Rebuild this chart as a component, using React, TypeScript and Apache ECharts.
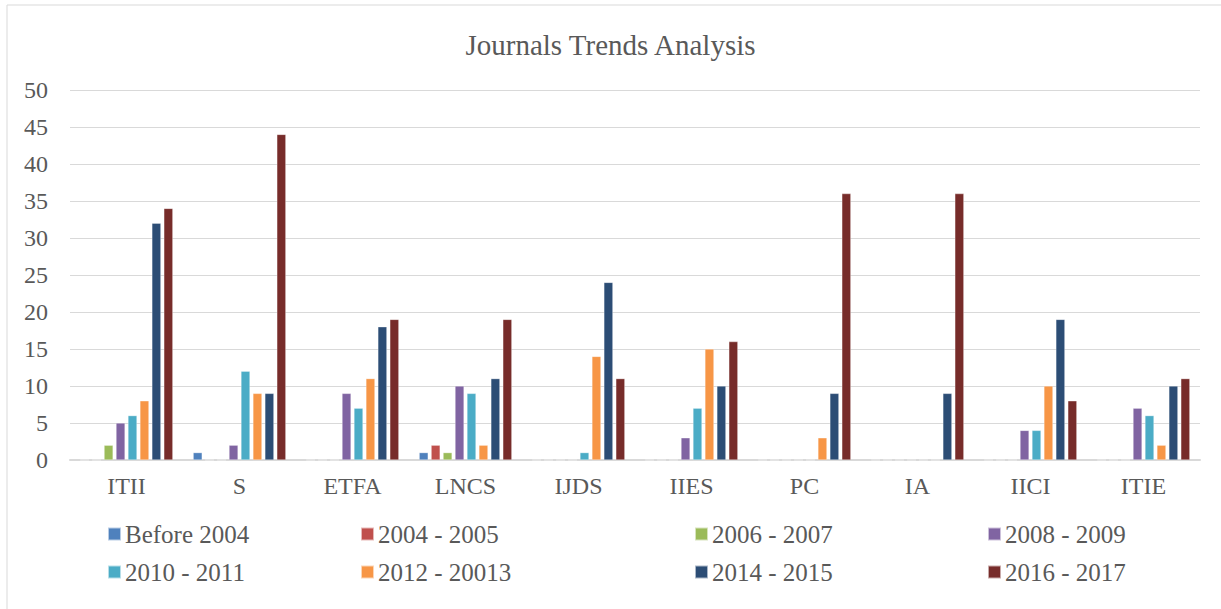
import React, { useEffect, useRef } from "react";
import * as echarts from "echarts";

const categories = ["ITII", "S", "ETFA", "LNCS", "IJDS", "IIES", "PC", "IA", "IICI", "ITIE"];
const seriesNames = [
  "Before 2004",
  "2004 - 2005",
  "2006 - 2007",
  "2008 - 2009",
  "2010 - 2011",
  "2012 - 20013",
  "2014 - 2015",
  "2016 - 2017",
];
const before2004 = [0, 1, 0, 1, 0, 0, 0, 0, 0, 0];
const y2004_2005 = [0, 0, 0, 2, 0, 0, 0, 0, 0, 0];
const y2006_2007 = [2, 0, 0, 1, 0, 0, 0, 0, 0, 0];
const y2008_2009 = [5, 2, 9, 10, 0, 3, 0, 0, 4, 7];
const y2010_2011 = [6, 12, 7, 9, 1, 7, 0, 0, 4, 6];
const y2012_2013 = [8, 9, 11, 2, 14, 15, 3, 0, 10, 2];
const y2014_2015 = [32, 9, 18, 11, 24, 10, 9, 9, 19, 10];
const y2016_2017 = [34, 44, 19, 19, 11, 16, 36, 36, 8, 11];
const yTicks = [0, 5, 10, 15, 20, 25, 30, 35, 40, 45, 50];

const seriesData = [before2004, y2004_2005, y2006_2007, y2008_2009, y2010_2011, y2012_2013, y2014_2015, y2016_2017];
const colors = ["#4F81BD", "#C0504D", "#9BBB59", "#8064A2", "#4BACC6", "#F79646", "#2C4D75", "#772C2A"];

const FONT = "'Liberation Serif', 'Times New Roman', serif";
const TXT = "#595959";

const legendPos = [
  { left: 107, top: 521 },
  { left: 360, top: 521 },
  { left: 694, top: 521 },
  { left: 987, top: 521 },
  { left: 107, top: 559 },
  { left: 360, top: 559 },
  { left: 694, top: 559 },
  { left: 987, top: 559 },
];

export default function App() {
  const ref = useRef<HTMLDivElement>(null);
  useEffect(() => {
    if (!ref.current) return;
    const chart = echarts.init(ref.current, null, { renderer: "svg" });
    chart.setOption({
      animation: false,
      backgroundColor: "#ffffff",
      color: colors,
      title: {
        text: "Journals Trends Analysis",
        left: "center",
        top: 25,
        textStyle: { fontFamily: FONT, fontSize: 29, fontWeight: "normal", color: TXT },
      },
      graphic: [
        {
          type: "rect",
          shape: { x: 7, y: 5, width: 1400, height: 800 },
          style: { fill: "none", stroke: "#d9d9d9", lineWidth: 1 },
          silent: true,
        },
      ],
      legend: seriesNames.map((n, i) => ({
        data: [n],
        left: legendPos[i].left,
        top: legendPos[i].top,
        icon: "rect",
        itemWidth: 13,
        itemHeight: 13,
        padding: 0,
        textStyle: { fontFamily: FONT, fontSize: 25, color: TXT, lineHeight: 26, padding: [0, 0, 0, -1] },
      })),
      grid: { left: 70, right: 21, top: 90, bottom: 149, containLabel: false },
      xAxis: {
        type: "category",
        data: categories,
        axisLine: { show: true, lineStyle: { color: "#d9d9d9", width: 2 } },
        axisTick: { show: false },
        axisLabel: { fontFamily: FONT, fontSize: 24, color: TXT, margin: 14 },
      },
      yAxis: {
        type: "value",
        min: yTicks[0],
        max: yTicks[yTicks.length - 1],
        interval: 5,
        axisLine: { show: false },
        axisTick: { show: false },
        splitLine: { lineStyle: { color: "#d9d9d9", width: 1 } },
        axisLabel: { fontFamily: FONT, fontSize: 24, color: TXT, margin: 22 },
      },
      series: seriesNames.map((n, i) => ({
        name: n,
        type: "bar",
        data: seriesData[i],
        barGap: "33%",
        barCategoryGap: "18%",
        itemStyle: { color: colors[i], borderColor: "rgba(255,255,255,0.6)", borderWidth: 0.5 },
      })),
    });
    return () => chart.dispose();
  }, []);
  return (
    <div
      ref={ref}
      style={{ position: "fixed", left: 0, top: 0, width: 1221, height: 609, background: "#fff" }}
    />
  );
}
